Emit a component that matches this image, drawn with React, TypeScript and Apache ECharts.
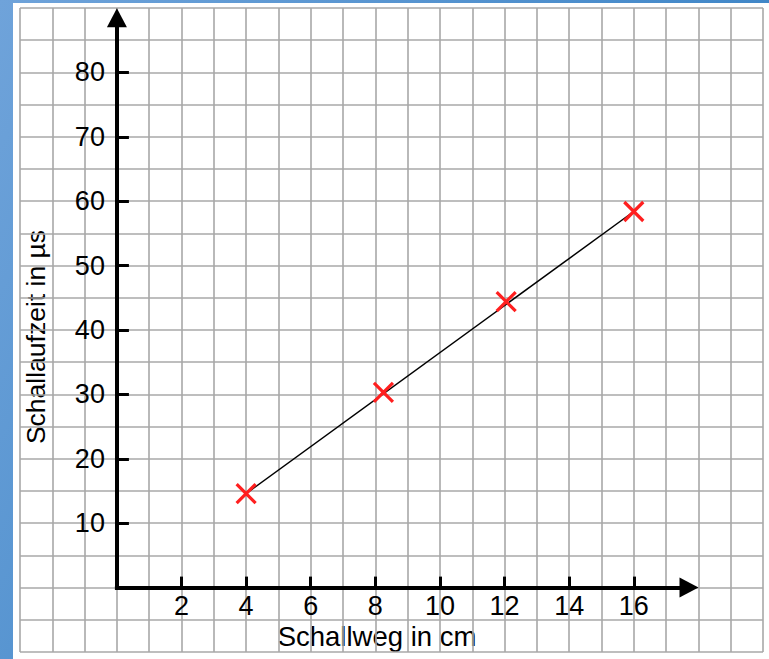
import React, { useEffect, useRef } from 'react';
import * as echarts from 'echarts';

// ---- data ----
const xTickValues = [2, 4, 6, 8, 10, 12, 14, 16];
const yTickValues = [10, 20, 30, 40, 50, 60, 70, 80];
const measX = [4, 8.25, 12.05, 16];
const measY = [14.6, 30.3, 44.4, 58.4];
const fitX = [4, 16];
const fitY = [14.6, 58.4];
const xName = 'Schallweg in cm';
const yName = 'Schallaufzeit in µs';

const FONT = "'Liberation Sans', Arial, Helvetica, sans-serif";
const FS = 27;
const RED = '#ff1f1f';

export default function App() {
  const ref = useRef<HTMLDivElement>(null);
  useEffect(() => {
    const chart = echarts.init(ref.current!, null, { renderer: 'svg' });
    const tickLabel = {
      show: true,
      color: '#000000',
      opacity: 1,
      fontSize: FS,
      fontFamily: FONT,
      fontWeight: 'normal',
      textBorderWidth: 0,
      textShadowBlur: 0,
    };
    const option: any = {
      animation: false,
      backgroundColor: '#ffffff',
      grid: { left: 7, right: 6, top: 5, bottom: 7, outerBoundsMode: 'none', containLabel: false },
      xAxis: [
        {
          type: 'value', min: -3, max: 20, interval: 1, position: 'bottom',
          axisLine: { show: false, onZero: false },
          axisTick: { show: false },
          axisLabel: { show: false },
          splitLine: { show: true, lineStyle: { color: '#a8a8a8', width: 1.6 } },
        },
        {
          type: 'value', min: -3, max: 20, interval: 1, position: 'bottom',
          axisLine: { show: false, onZero: true, onZeroAxisIndex: 0 },
          axisTick: { show: true, inside: true, length: 11, customValues: xTickValues, lineStyle: { color: '#000', width: 3 } },
          axisLabel: { show: false },
          splitLine: { show: false },
        },
      ],
      yAxis: [
        {
          type: 'value', min: -10, max: 90, interval: 5, position: 'left',
          axisLine: { show: false, onZero: false },
          axisTick: { show: false },
          axisLabel: { show: false },
          splitLine: { show: true, lineStyle: { color: '#a8a8a8', width: 1.6 } },
        },
        {
          type: 'value', min: -10, max: 90, interval: 5, position: 'left',
          axisLine: { show: false, onZero: true, onZeroAxisIndex: 0 },
          axisTick: { show: true, inside: true, length: 12, customValues: yTickValues, lineStyle: { color: '#000', width: 3 } },
          axisLabel: { show: false },
          splitLine: { show: false },
        },
      ],
      graphic: [
        {
          type: 'text', x: 364, y: 633,
          style: { text: xName, fill: '#000', font: `27.5px ${FONT}`, textAlign: 'center', textVerticalAlign: 'middle' },
        },
        {
          type: 'text', x: 23, y: 334, rotation: Math.PI / 2,
          style: { text: yName, fill: '#000', font: `26.5px ${FONT}`, textAlign: 'center', textVerticalAlign: 'middle' },
        },
      ],
      series: [
        {
          type: 'line',
          data: fitX.map((x, i) => [x, fitY[i]]),
          showSymbol: false,
          symbol: 'none',
          lineStyle: { color: '#000', width: 1.5 },
          z: 3,
          silent: true,
          markLine: {
            silent: true,
            symbol: ['none', 'triangle'],
            symbolSize: [20, 19],
            label: { show: false },
            itemStyle: { color: '#000' },
            lineStyle: { color: '#000', width: 4, type: 'solid', cap: 'square' },
            data: [
              [{ coord: [0, 0] }, { coord: [17.71, 0] }],
              [{ coord: [0, 0] }, { coord: [0, 88.5] }],
            ],
          },
        },
        {
          // x tick labels
          type: 'scatter',
          data: xTickValues.map((v) => [v, 0]),
          symbol: 'circle',
          symbolSize: 1,
          itemStyle: { color: '#ffffff', opacity: 0 },
          silent: true,
          z: 4,
          label: {
            ...tickLabel, position: 'bottom', distance: 4,
            formatter: (p: any) => String(p.value[0]),
          },
        },
        {
          // y tick labels
          type: 'scatter',
          data: yTickValues.map((v) => [0, v]),
          symbol: 'circle',
          symbolSize: 1,
          itemStyle: { color: '#ffffff', opacity: 0 },
          silent: true,
          z: 4,
          label: {
            ...tickLabel, position: 'left', distance: 11.5,
            formatter: (p: any) => String(p.value[1]),
          },
        },
        {
          type: 'scatter',
          data: measX.map((x, i) => [x, measY[i]]),
          symbol: 'path://M0,0L10,10M10,0L0,10',
          symbolSize: 19,
          itemStyle: { color: RED, borderColor: RED, borderWidth: 3.2, opacity: 1 },
          z: 5,
          silent: true,
        },
      ],
    };
    chart.setOption(option);
    return () => chart.dispose();
  }, []);
  return (
    <div
      style={{
        position: 'fixed', left: 0, top: 0, width: 769, height: 659, overflow: 'hidden',
        background: 'linear-gradient(120deg, #6fa3da 0%, #3f86c7 70%)',
      }}
    >
      <div ref={ref} style={{ position: 'absolute', left: 13, top: 3, width: 756, height: 656, background: '#fff' }} />
    </div>
  );
}
